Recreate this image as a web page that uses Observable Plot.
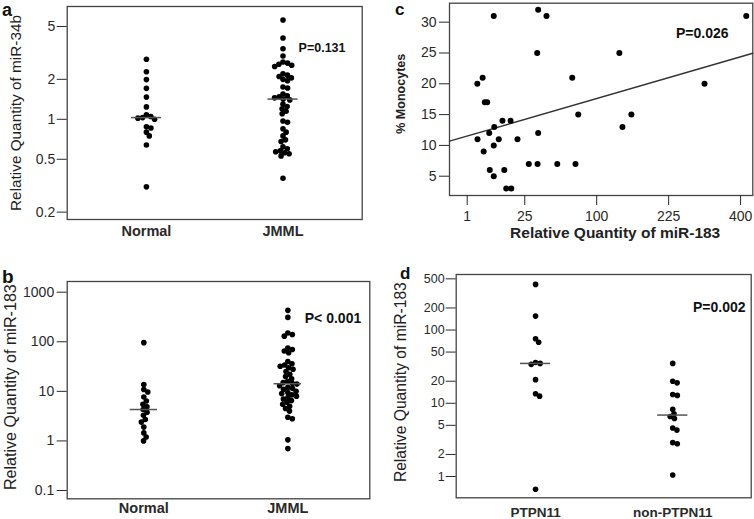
<!DOCTYPE html>
<html><head><meta charset="utf-8">
<script src="https://cdn.jsdelivr.net/npm/d3@7"></script>
<script src="https://cdn.jsdelivr.net/npm/@observablehq/plot@0.6"></script>
<style>
body{margin:0;background:#fff;}
#fig{position:relative;width:754px;height:519px;overflow:hidden;font-family:"Liberation Sans",Arial,sans-serif;}
.panel{position:absolute;}
.letter{position:absolute;font-weight:bold;line-height:0.7;color:#111;}
</style></head><body><div id="fig"></div>
<script>
// ---- Panel a: miR-34b ----
const aCategories = ["Normal", "JMML"];
const aNormal = [2.83, 2.28, 1.99, 1.71, 1.47, 1.24, 1.08, 1.05, 1.03, 1.02, 1.0, 0.88, 0.86, 0.8, 0.75, 0.64, 0.31];
const aJMML = [5.6, 4.1, 3.4, 3.0, 2.7, 2.65, 2.6, 2.55, 2.5, 2.2, 2.15, 2.1, 2.05, 2.0, 1.95, 1.75, 1.72, 1.55, 1.5, 1.48, 1.45, 1.42, 1.4, 1.3, 1.25, 1.2, 1.15, 1.1, 0.97, 0.95, 0.85, 0.8, 0.75, 0.7, 0.68, 0.62, 0.6, 0.58, 0.57, 0.56, 0.55, 0.53, 0.36];
const aTicks = [0.2, 0.5, 1, 2, 5];
const aTitle = "Relative Quantity of miR-34b";
const aP = "P=0.131";

// ---- Panel b: miR-183 ----
const bCategories = ["Normal", "JMML"];
const bNormal = [96, 13.7, 10.9, 9.7, 7.7, 6.4, 5.5, 4.9, 4.3, 3.8, 3.3, 2.7, 2.4, 1.9, 1.45, 1.2, 1.0];
const bJMML = [430, 310, 150, 140, 130, 75, 70, 65, 60, 40, 36, 34, 32, 30, 28, 25, 22, 20, 18, 16, 15, 14.5, 14, 13, 12, 11.5, 11, 10, 9.5, 9, 8.5, 8, 7.5, 7, 6.5, 6, 5.5, 5, 4.5, 4, 3.0, 2.8, 1.05, 0.7];
const bTicks = [0.1, 1, 10, 100, 1000];
const bTitle = "Relative Quantity of miR-183";
const bP = "P< 0.001";

// ---- Panel c: monocytes vs miR-183 ----
const cMiR183 = [8.1, 35.2, 42.4, 34.4, 4.3, 2.9, 68.9, 4.95, 5.7, 76, 11.9, 16.1, 8.3, 6.4, 2.95, 10.2, 20.2, 35.2, 8.1, 4.6, 27.9, 34.7, 52.7, 72.7, 6.6, 12.8, 8.1, 13.8, 16.5, 416, 134, 306, 154, 139];
const cMonocytes = [31, 32, 31, 25, 21, 20, 21, 17, 17, 15, 14, 14, 13, 12, 11, 11, 11, 12, 10, 9, 7, 7, 7, 7, 6, 6, 5, 3, 3, 31, 25, 20, 15, 13];
const cXTicks = [1, 25, 100, 225, 400];
const cYTicks = [5, 10, 15, 20, 25, 30];
const cXTitle = "Relative Quantity of miR-183";
const cYTitle = "% Monocytes";
const cP = "P=0.026";

// ---- Panel d: PTPN11 ----
const dCategories = ["PTPN11", "non-PTPN11"];
const dPTPN11 = [420, 155, 76, 68, 36, 35, 34, 21, 13.5, 12.5, 0.67];
const dNonPTPN11 = [35, 20, 19, 13.2, 12.8, 8.3, 7.2, 6.6, 6.2, 4.6, 4.3, 2.9, 2.8, 1.05];
const dTicks = [1, 2, 5, 10, 20, 50, 100, 200, 500];
const dTitle = "Relative Quantity of miR-183";
const dP = "P=0.002";

const FONT = '"Liberation Sans", Arial, sans-serif';
const fig = document.getElementById("fig");

function swarm(values, index, cfg) {
  const ly = d3.scaleLog().domain(cfg.yDomain).range([cfg.plotH, 0]);
  const pxPerX = cfg.plotW / (cfg.xDomain[1] - cfg.xDomain[0]);
  const pts = values.map(v => ({v, py: ly(v)})).sort((a, b) => a.py - b.py);
  const placed = [];
  const D = cfg.minDist;
  for (const p of pts) {
    const iv = [];
    for (const q of placed) {
      const dy = Math.abs(p.py - q.py);
      if (dy < D) { const h = Math.sqrt(D * D - dy * dy); iv.push([q.px - h, q.px + h]); }
    }
    const cands = [0];
    for (const [a, b] of iv) cands.push(a, b);
    cands.sort((a, b) => Math.abs(a) - Math.abs(b) || b - a);
    let best = 0;
    for (const c of cands) {
      if (iv.every(([a, b]) => c <= a + 1e-6 || c >= b - 1e-6)) { best = c; break; }
    }
    p.px = best;
    placed.push(p);
  }
  return pts.map(p => ({x: index + p.px / pxPerX, y: p.v}));
}

function place(svg, left, top) {
  const d = document.createElement("div");
  d.className = "panel";
  d.style.left = left + "px";
  d.style.top = top + "px";
  d.appendChild(svg);
  fig.appendChild(d);
}

// size a rendered title so that its length matches the reference
function fitText(svg, str, target) {
  for (const el of svg.querySelectorAll("text")) {
    if (el.textContent === str) {
      const len = el.getComputedTextLength();
      const fs = parseFloat(getComputedStyle(el).fontSize);
      if (len > 0 && fs > 0) el.setAttribute("font-size", (fs * target / len).toFixed(2));
    }
  }
}

function letter(t, left, baseline, fs) {
  const d = document.createElement("div");
  d.className = "letter";
  d.textContent = t;
  d.style.left = left + "px";
  d.style.fontSize = fs + "px";
  d.style.top = (baseline - 0.6965 * fs) + "px";
  fig.appendChild(d);
}

function catPanel(o) {
  const plotW = o.width - o.ml - o.mr, plotH = o.height - o.mt - o.mb;
  const cfg = {yDomain: o.yDomain, plotH, plotW, xDomain: o.xDomain, minDist: 4.7};
  const pts = o.groups.flatMap((g, i) => swarm(g, i + 1, cfg));
  const medians = o.groups.map((g, i) => ({x1: i + 1 - o.half, x2: i + 1 + o.half, y: d3.median(g)}));
  return Plot.plot({
    width: o.width, height: o.height,
    marginLeft: o.ml, marginTop: o.mt, marginRight: o.mr, marginBottom: o.mb,
    style: {fontFamily: FONT, color: "#2a2a2a", background: "transparent", maxWidth: "none", overflow: "visible"},
    x: {domain: o.xDomain},
    y: {type: "log", domain: o.yDomain},
    marks: [
      Plot.frame({stroke: "#444", strokeWidth: 1.3}),
      Plot.axisY({ticks: o.yTicks, tickFormat: () => "", tickSize: 10, tickPadding: 0, label: null}),
      Plot.text(o.yTicks, {y: d => d, text: d => String(d), frameAnchor: "left", dx: -(10 + o.tickPad), textAnchor: "end", lineAnchor: "middle", fontSize: o.tickFs, fill: "currentColor"}),
      Plot.axisX({ticks: [1, 2], tickFormat: i => o.categories[i - 1], tickSize: 0, tickPadding: o.catPad, fontSize: o.catFs, fontWeight: "bold", label: null}),
      Plot.dot(pts, {x: "x", y: "y", r: 2.8, fill: "#000"}),
      Plot.ruleY(medians, {x1: "x1", x2: "x2", y: "y", stroke: "#555", strokeWidth: 1.5}),
      Plot.text([o.title], {text: d => d, frameAnchor: "left", rotate: -90, dx: o.titleDx, dy: o.titleDy, fontSize: o.titleFs, textAnchor: "middle", lineAnchor: "middle", fill: "#222"}),
      Plot.text([o.p], {text: d => d, frameAnchor: "top-right", dx: o.pDx, dy: o.pDy, textAnchor: "end", lineAnchor: "middle", fontSize: o.pFs, fontWeight: "bold", fill: "#111"})
    ]
  });
}

// Panel a
const svgA = catPanel({
  width: 370, height: 245, ml: 66.7, mt: 6, mr: 8.3, mb: 26,
  yDomain: [0.176, 7.07], xDomain: [0.42, 2.58], half: 0.11,
  groups: [aNormal, aJMML], categories: aCategories, yTicks: aTicks,
  tickPad: 2, tickFs: 14, catPad: 6, catFs: 14.5,
  title: aTitle, titleDx: -50.7, titleDy: 0, titleFs: 15.3,
  p: aP, pDx: -16.7, pDy: 41.3, pFs: 12.5
});
place(svgA, 0, 0);
fitText(svgA, aTitle, 196);

// Panel b
const svgB = catPanel({
  width: 372, height: 269, ml: 66.7, mt: 31, mr: 2.7, mb: 20.7,
  yDomain: [0.068, 1644], xDomain: [0.468, 2.569], half: 0.095,
  groups: [bNormal, bJMML], categories: bCategories, yTicks: bTicks,
  tickPad: 3, tickFs: 14, catPad: 4, catFs: 14.5,
  title: bTitle, titleDx: -56, titleDy: -3, titleFs: 16.2,
  p: bP, pDx: -8.6, pDy: 37.3, pFs: 14
});
place(svgB, 0, 250);
fitText(svgB, bTitle, 206);

// Panel d
const svgD = catPanel({
  width: 384, height: 269, ml: 85.7, mt: 24, mr: 3.3, mb: 21.7,
  yDomain: [0.512, 573], xDomain: [0.4215, 2.572], half: 0.11,
  groups: [dPTPN11, dNonPTPN11], categories: dCategories, yTicks: dTicks,
  tickPad: 1.5, tickFs: 12.5, catPad: 9.5, catFs: 13.5,
  title: dTitle, titleDx: -54.9, titleDy: -4, titleFs: 15.5,
  p: dP, pDx: -5.7, pDy: 32.7, pFs: 14
});
place(svgD, 370, 250);
fitText(svgD, dTitle, 200);

// Panel c
(function () {
  const cXDomain = [-0.053, 434.7];
  const cYDomain = [1.87, 33.08];
  const pts = cMiR183.map((x, i) => ({x, y: cMonocytes[i]}));
  const s = cMiR183.map(Math.sqrt);
  const sm = d3.mean(s), ym = d3.mean(cMonocytes);
  const slope = d3.sum(s, (si, i) => (si - sm) * (cMonocytes[i] - ym)) / d3.sum(s, si => (si - sm) ** 2);
  const icpt = ym - slope * sm;
  const fit = cXDomain.map(x => ({x, y: icpt + slope * Math.sign(x) * Math.sqrt(Math.abs(x))}));
  const svg = Plot.plot({
    width: 384, height: 245, marginLeft: 79, marginTop: 2.7, marginRight: 1.7, marginBottom: 50,
    style: {fontFamily: FONT, color: "#2a2a2a", background: "transparent", maxWidth: "none", overflow: "visible"},
    x: {type: "pow", exponent: 0.5, domain: cXDomain},
    y: {domain: cYDomain},
    marks: [
      Plot.frame({stroke: "#444", strokeWidth: 1.3}),
      Plot.axisY({ticks: cYTicks, tickSize: 10, tickPadding: 3, fontSize: 14, label: null}),
      Plot.axisX({ticks: cXTicks, tickFormat: d => String(d), tickSize: 10, tickPadding: 6, fontSize: 14, label: null}),
      Plot.line(fit, {x: "x", y: "y", stroke: "#333", strokeWidth: 1.4}),
      Plot.dot(pts, {x: "x", y: "y", r: 3, fill: "#000"}),
      Plot.text([cYTitle], {text: d => d, frameAnchor: "left", rotate: -90, dx: -48.2, dy: -5.6, fontSize: 13.5, fontWeight: "bold", textAnchor: "middle", lineAnchor: "middle", fill: "#222"}),
      Plot.text([cXTitle], {text: d => d, frameAnchor: "bottom", dx: 14, dy: 37.2, fontSize: 15.5, fontWeight: "bold", textAnchor: "middle", lineAnchor: "middle", fill: "#222"}),
      Plot.text([cP], {text: d => d, frameAnchor: "top-right", dx: -24.3, dy: 30.6, textAnchor: "end", lineAnchor: "middle", fontSize: 14, fontWeight: "bold", fill: "#111"})
    ]
  });
  place(svg, 370, 0);
  fitText(svg, cYTitle, 80);
})();

letter("a", 2, 16.4, 18);
letter("b", 2, 283.3, 19);
letter("c", 395, 15.8, 17);
letter("d", 400, 280, 17);
</script></body></html>
